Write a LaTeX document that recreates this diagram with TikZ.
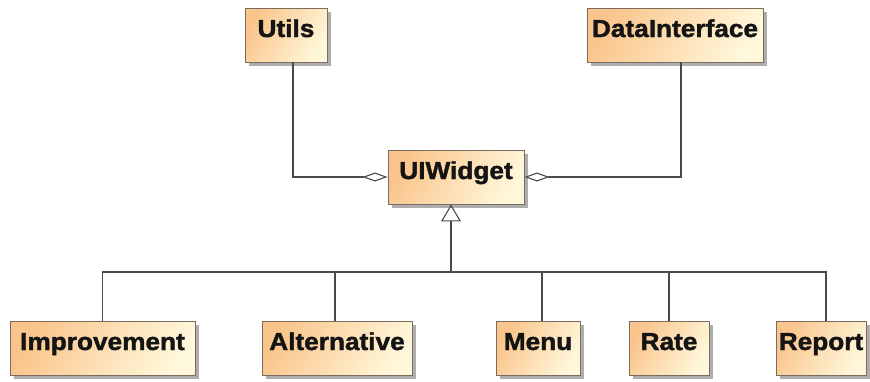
\documentclass[tikz,border=0pt]{standalone}
\usepackage{fontspec}
\setmainfont{Liberation Sans}[BoldFeatures={FakeBold=1.6, FakeStretch=1.07}]
\usetikzlibrary{arrows.meta,shadows}

\definecolor{boxwarm}{HTML}{FAC58C}
\definecolor{boxpale}{HTML}{FFF7DA}
\definecolor{boxrule}{HTML}{7A6C5E}
\definecolor{wire}{HTML}{4A4A4A}

\tikzset{
  umlclass/.style={
    rectangle, draw=boxrule, line width=0.9pt,
    left color=boxwarm, right color=boxpale, shading angle=60,
    inner xsep=0pt, inner ysep=0pt,
    text height=29pt, text depth=25pt,
    font=\fontsize{24.5}{26}\selectfont\bfseries, text=black!92,
    drop shadow={shadow xshift=3.5pt, shadow yshift=-3.5pt, fill=black!45, opacity=0.7}
  },
  wireline/.style={draw=wire, line width=1.3pt},
  aggregation/.style={wireline, -{Diamond[open, length=25pt, width=9pt, line width=1.1pt]}},
  generalization/.style={wireline, -{Triangle[open, length=17pt, width=20pt, line width=1.1pt]}}
}

\begin{document}
\begin{tikzpicture}[x=1pt, y=-1pt]
  \fill[white] (0,0) rectangle (870,381);
  \useasboundingbox (0,0) rectangle (870,381);

  % classes
  \node[umlclass, minimum width=82pt]  (utils) at (286,35)   {Utils};
  \node[umlclass, minimum width=176pt] (data)  at (675,35)   {DataInterface};
  \node[umlclass, minimum width=136pt] (uiw)   at (456,177)  {UIWidget};
  \node[umlclass, minimum width=185pt] (impr)  at (102.5,348) {Improvement};
  \node[umlclass, minimum width=150pt] (alt)   at (337,348)  {Alternative};
  \node[umlclass, minimum width=84pt]  (menu)  at (538,348)  {Menu};
  \node[umlclass, minimum width=80pt]  (rate)  at (669,348)  {Rate};
  \node[umlclass, minimum width=90pt]  (rep)   at (821,348)  {Report};

  % aggregations into UIWidget
  \draw[aggregation] ([xshift=7pt]utils.south) |- (uiw.west);
  \draw[aggregation] ([xshift=6pt]data.south) |- (uiw.east);

  % generalization tree
  \coordinate (bus) at (451,272);
  \draw[wireline] (impr.north) |- (bus);
  \draw[wireline] ([xshift=-2pt]alt.north) |- (bus);
  \draw[wireline] ([xshift=4pt]menu.north) |- (bus);
  \draw[wireline] (rate.north) |- (bus);
  \draw[wireline] ([xshift=5pt]rep.north) |- (bus);
  \draw[generalization] (bus) -- ([xshift=-5pt]uiw.south);
\end{tikzpicture}
\end{document}
